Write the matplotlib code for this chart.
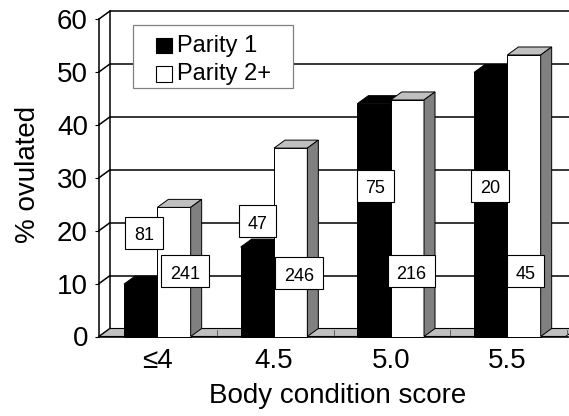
import matplotlib
matplotlib.use("Agg")
import matplotlib.pyplot as plt
import matplotlib.transforms as mtransforms
from matplotlib.patches import Rectangle, Polygon
from matplotlib.path import Path

plt.rcParams["font.family"] = ["Liberation Sans", "DejaVu Sans"]

# ---- data -------------------------------------------------------------
categories = ["\u22644", "4.5", "5.0", "5.5"]
parity1 = [9.9, 16.9, 44.0, 49.9]      # % ovulated, parity 1
parity2 = [24.4, 35.6, 44.7, 53.2]     # % ovulated, parity 2+
n_parity1 = [81, 47, 75, 20]           # number of animals, parity 1
n_parity2 = [241, 246, 216, 45]        # number of animals, parity 2+
y_ticks = [0, 10, 20, 30, 40, 50, 60]
series_names = ["Parity 1", "Parity 2+"]

# ---- layout -----------------------------------------------------------
W, H = 569, 416
fig = plt.figure(figsize=(W / 100, H / 100), dpi=100)
ax_left, ax_right, ax_y0, ax_y60 = 99, 569, 336.5, 19.0
ax = fig.add_axes([ax_left / W, (H - ax_y0) / H,
                   (ax_right - ax_left) / W, (ax_y0 - ax_y60) / H])
cat_px = 116.67
ax.set_xlim(-0.5, -0.5 + (ax_right - ax_left) / cat_px)
ax.set_ylim(0, 60)

# depth of the 3-D box in data units
ddx = 11 / cat_px
ddy = 8 / ((ax_y0 - ax_y60) / 60)
bw = 1 / 3.5            # bar width (gap = 150 %)
x_lo, x_hi = -0.5, 3.5
ymax = 60

LW = 1.1
GRID = "black"
common = dict(clip_on=False)

# back wall
ax.add_patch(Rectangle((x_lo + ddx, ddy), (x_hi - x_lo), ymax, fc="white",
                       ec="none", zorder=0, **common))
for v in y_ticks[1:]:
    ax.plot([x_lo + ddx, x_hi + ddx], [v + ddy, v + ddy], color=GRID, lw=LW,
            zorder=1, solid_capstyle="butt", **common)
# side wall edges and diagonal grid lines
ax.plot([x_lo + ddx, x_lo + ddx], [ddy, ymax + ddy], color=GRID, lw=LW,
        zorder=1, **common)
for v in y_ticks:
    ax.plot([x_lo, x_lo + ddx], [v, v + ddy], color=GRID, lw=LW, zorder=1,
            **common)

# floor
ax.add_patch(Polygon([(x_lo, 0), (x_hi, 0), (x_hi + ddx, ddy),
                      (x_lo + ddx, ddy)], closed=True, fc="#c0c0c0",
                     ec="black", lw=0.8, zorder=2, **common))
for b in [0.5, 1.5, 2.5, 3.5]:
    ax.plot([b + 0.01, b + 0.01], [0, ddy * 0.8], color="#606060", lw=0.7,
            zorder=2, **common)
ax.plot([x_lo, x_hi + 1], [0, 0], color="black", lw=LW, zorder=2, **common)


def bar3d(x0, v, front, top, side, z):
    ax.add_patch(Rectangle((x0, 0), bw, v, fc=front, ec="black", lw=0.7,
                           zorder=z, **common))
    ax.add_patch(Polygon([(x0, v), (x0 + bw, v), (x0 + bw + ddx, v + ddy),
                          (x0 + ddx, v + ddy)], closed=True, fc=top,
                         ec="black", lw=0.7, zorder=z, **common))
    ax.add_patch(Polygon([(x0 + bw, 0), (x0 + bw + ddx, ddy),
                          (x0 + bw + ddx, v + ddy), (x0 + bw, v)],
                         closed=True, fc=side, ec="black", lw=0.7, zorder=z,
                         **common))


z = 3
for i in range(len(categories)):
    bar3d(i - bw, parity1[i], "black", "black", "black", z)
    z += 1
    bar3d(i, parity2[i], "white", "#c0c0c0", "#808080", z)
    z += 1


# sample-size boxes
def n_box(x0, y0, width, height, mutation_size):
    padx = 0.49 * mutation_size
    hh = 0.89 * mutation_size
    cy = y0 + height / 2 + 0.18 * mutation_size
    return Path([(x0 - padx, cy - hh), (x0 + width + padx, cy - hh),
                 (x0 + width + padx, cy + hh), (x0 - padx, cy + hh),
                 (x0 - padx, cy - hh)], closed=True)


n_pos_p1 = [(-0.114, 19.0), (0.859, 21.2), (1.870, 27.9), (2.851, 27.9)]
n_pos_p2 = [(0.237, 11.7), (1.213, 11.4), (2.178, 11.7), (3.156, 11.7)]
for vals, pos in [(n_parity1, n_pos_p1), (n_parity2, n_pos_p2)]:
    for n, (x, y) in zip(vals, pos):
        ax.text(x, y, str(n), fontsize=13, ha="center", va="center",
                zorder=50,
                bbox=dict(boxstyle=n_box, fc="white", ec="black", lw=0.8))

# axes styling
for s in ["top", "right", "bottom"]:
    ax.spines[s].set_visible(False)
ax.spines["left"].set_linewidth(LW)
ax.spines["left"].set_zorder(3)
ax.set_yticks(y_ticks)
ax.set_yticklabels([str(t) for t in y_ticks])
ax.tick_params(axis="y", direction="out", length=3, width=0.8, pad=5,
               labelsize=20)
ax.set_xticks(range(len(categories)))
ax.set_xticklabels(categories)
ax.tick_params(axis="x", length=0, pad=8, labelsize=20)
ax.set_xlabel("Body condition score", fontsize=20)
ax.xaxis.set_label_coords((338 - ax_left) / (ax_right - ax_left), -0.145)
ax.set_ylabel("% ovulated", fontsize=20)
ax.yaxis.set_label_coords((41 - ax_left) / (ax_right - ax_left), 0.509)
ax.patch.set_visible(False)

# legend box (pixel coordinates, origin at top-left)
ident = mtransforms.IdentityTransform()


def P(x, y):
    return (x, H - y)


fig.patches.append(Rectangle(P(133.3, 88.3), 160, 63.3, fc="white",
                             ec="#808080", lw=0.9, transform=ident,
                             zorder=60))
for k, (name, fc, base) in enumerate(zip(series_names, ["black", "white"],
                                         [51.7, 80.0])):
    fig.patches.append(Rectangle(P(155.5, base + 1.5), 16.5, 15.5, fc=fc,
                                 ec="black", lw=0.8, transform=ident,
                                 zorder=61))
    fig.text(*P(176.7, base), name, fontsize=17, ha="left", va="baseline",
             transform=ident, zorder=62)

fig.savefig("out.png", dpi=100)
